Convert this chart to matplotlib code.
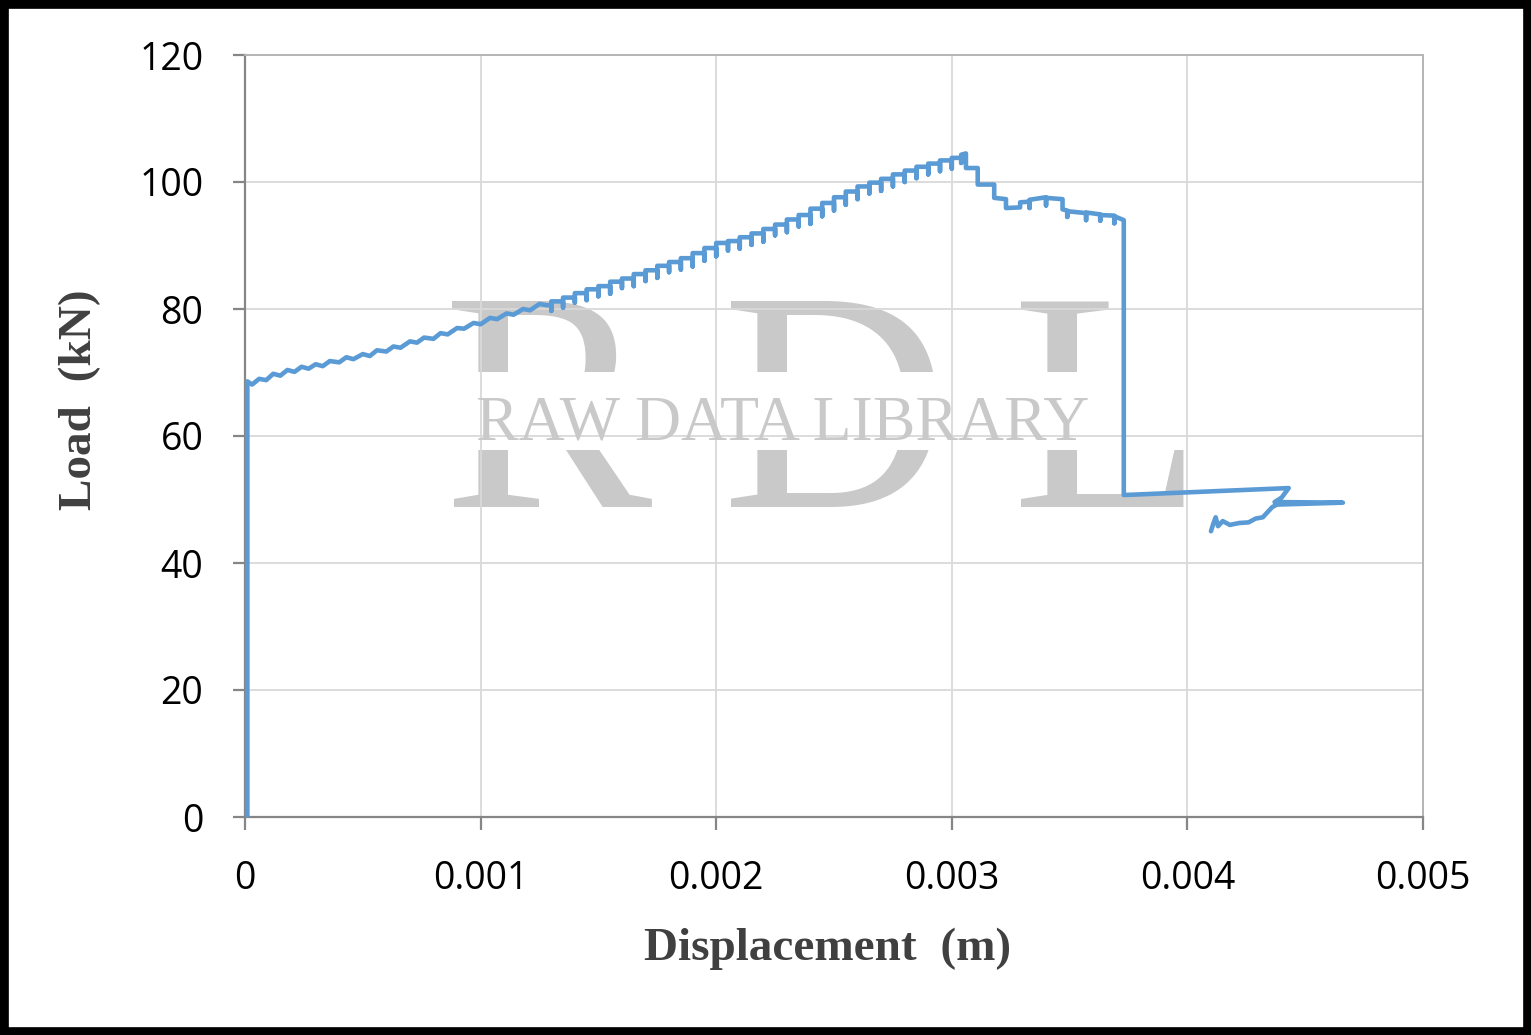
#!/usr/bin/env python3
"""
Load vs displacement curve (Excel-style scatter with lines) with RDL watermark
"""

import matplotlib
matplotlib.use('Agg')
import matplotlib.pyplot as plt
import matplotlib.patches as patches

LINE_BLUE = '#5B9BD5'
GRID_GRAY = '#D9D9D9'
AXIS_GRAY = '#868686'
MARK_GRAY = '#C9C9C9'

# initial elastic jump + wavy rise (displacement in m, load in kN)
rise_disp = [0.00001, 0.00001, 0.00003, 0.00006, 0.00009, 0.00012, 0.00015, 0.00018,
             0.00021, 0.00024, 0.00027, 0.00030, 0.00033, 0.00036, 0.00040, 0.00043,
             0.00046, 0.00050, 0.00053, 0.00056, 0.00060, 0.00063, 0.00066, 0.00070,
             0.00073, 0.00076, 0.00080, 0.00083, 0.00086, 0.00090, 0.00093, 0.00097,
             0.00100, 0.00104, 0.00107, 0.00111, 0.00114, 0.00118, 0.00121, 0.00125,
             0.00128]
rise_load = [0.0, 68.6, 68.1, 69.0, 68.8, 69.8, 69.5, 70.4,
             70.1, 70.9, 70.6, 71.3, 71.0, 71.8, 71.6, 72.4,
             72.1, 72.9, 72.6, 73.5, 73.3, 74.1, 73.9, 74.9,
             74.7, 75.5, 75.3, 76.2, 76.0, 77.0, 76.9, 77.8,
             77.6, 78.6, 78.4, 79.3, 79.1, 80.0, 79.8, 80.8,
             80.6]

# stair-step section up to the peak: step position, spike bottom, new level
step_disp = [0.00130, 0.00135, 0.00140, 0.00145, 0.00150, 0.00155, 0.00160, 0.00165,
             0.00170, 0.00175, 0.00180, 0.00185, 0.00190, 0.00195, 0.00200, 0.00205,
             0.00210, 0.00215, 0.00220, 0.00225, 0.00230, 0.00235, 0.00240, 0.00245,
             0.00250, 0.00255, 0.00260, 0.00265, 0.00270, 0.00275, 0.00280, 0.00285,
             0.00290, 0.00295, 0.00300, 0.00304]
step_low = [79.7, 80.2, 81.0, 81.4, 82.0, 82.4, 83.3, 83.6,
            84.4, 84.9, 85.8, 86.2, 86.7, 87.6, 88.3, 89.2,
            89.5, 90.1, 90.6, 91.6, 92.1, 93.0, 93.4, 94.6,
            95.5, 96.4, 97.3, 98.2, 98.6, 99.3, 100.0, 100.6,
            101.2, 101.7, 102.1, 103.0]
step_level = [81.2, 81.8, 82.5, 83.1, 83.6, 84.3, 84.8, 85.5,
              86.1, 86.8, 87.4, 88.0, 88.8, 89.6, 90.4, 90.7,
              91.3, 91.9, 92.6, 93.3, 94.1, 94.8, 95.8, 96.7,
              97.6, 98.5, 99.3, 99.9, 100.5, 101.2, 101.8, 102.4,
              102.9, 103.4, 103.8, 104.3]

# post-peak softening and sudden drop
post_disp = [0.00306, 0.00306, 0.00311, 0.00311, 0.00318, 0.00318, 0.00323, 0.00323,
             0.00329, 0.00329, 0.00333, 0.00333, 0.00333, 0.00340, 0.00340, 0.00340,
             0.00347, 0.00347, 0.00349, 0.00349, 0.00349, 0.00357, 0.00357, 0.00357,
             0.00363, 0.00363, 0.00363, 0.00369, 0.00369, 0.00369, 0.00373, 0.00373]
post_load = [104.5, 102.2, 102.2, 99.6, 99.6, 97.5, 97.3, 95.9,
             96.0, 96.8, 96.9, 95.9, 97.2, 97.6, 96.3, 97.5,
             97.3, 95.7, 95.5, 94.5, 95.4, 95.1, 94.0, 95.2,
             94.9, 93.9, 94.8, 94.7, 93.5, 94.6, 94.0, 50.7]

# residual tail
tail_disp = [0.00443, 0.00440, 0.00437, 0.00466, 0.00438, 0.00436, 0.00434, 0.00432,
             0.00429, 0.00426, 0.00422, 0.00418, 0.00415, 0.00413, 0.00412, 0.00411,
             0.00410]
tail_load = [51.8, 50.3, 49.6, 49.5, 49.2, 48.8, 48.0, 47.2,
             47.0, 46.4, 46.3, 46.0, 46.6, 45.8, 47.2, 46.2,
             45.0]

x_ticks = [0, 0.001, 0.002, 0.003, 0.004, 0.005]
x_tick_labels = ['0', '0.001', '0.002', '0.003', '0.004', '0.005']
y_ticks = [0, 20, 40, 60, 80, 100, 120]
y_tick_labels = ['0', '20', '40', '60', '80', '100', '120']


def build_curve():
    """Join the segments into one polyline in recording order"""
    xs = list(rise_disp)
    ys = list(rise_load)
    prev = ys[-1]
    for x, low, level in zip(step_disp, step_low, step_level):
        xs += [x, x, x]
        ys += [prev, low, level]
        prev = level
    xs += post_disp + tail_disp
    ys += post_load + tail_load
    return xs, ys


def create_chart(output_file='out.png'):
    fig = plt.figure(figsize=(15.31, 10.35), dpi=100, facecolor='white')
    ax = fig.add_axes([245 / 1531, 1 - 817 / 1035, 1178 / 1531, 762 / 1035])
    ax.set_facecolor('white')
    ax.set_axisbelow(True)

    ax.set_xlim(0, 0.005)
    ax.set_ylim(0, 120)
    ax.set_xticks(x_ticks)
    ax.set_xticklabels(x_tick_labels)
    ax.set_yticks(y_ticks)
    ax.set_yticklabels(y_tick_labels)
    ax.grid(True, color=GRID_GRAY, linewidth=1.3)

    for side in ['left', 'bottom']:
        ax.spines[side].set_color(AXIS_GRAY)
        ax.spines[side].set_linewidth(1.6)
    for side in ['top', 'right']:
        ax.spines[side].set_color('#B4B4B4')
        ax.spines[side].set_linewidth(1.4)

    ax.tick_params(axis='both', direction='out', length=9, width=1.6,
                   color=AXIS_GRAY, labelsize=27, labelcolor='black')
    ax.tick_params(axis='y', pad=21)
    ax.tick_params(axis='x', pad=22)
    for lab in ax.get_xticklabels() + ax.get_yticklabels():
        lab.set_family('Open Sans')

    # watermark: big serif letters, cut by a band where the small text sits
    for letter, px in [('R', 548), ('D', 835), ('L', 1108)]:
        ax.text((px - 245) / 1178, (817 - 507) / 762, letter, ha='center', va='baseline',
                fontsize=226, family='Liberation Serif', color=MARK_GRAY,
                transform=ax.transAxes, zorder=0.1)
    band = patches.Rectangle(((440 - 245) / 1178, (817 - 450) / 762),
                             (1200 - 440) / 1178, 78 / 762,
                             facecolor='white', edgecolor='none',
                             transform=ax.transAxes, zorder=0.2)
    ax.add_patch(band)
    ax.text((783 - 245) / 1178, (817 - 440) / 762, 'RAW DATA LIBRARY', ha='center',
            va='baseline', fontsize=46, family='Liberation Serif', color=MARK_GRAY,
            transform=ax.transAxes, zorder=0.6)

    xs, ys = build_curve()
    ax.plot(xs, ys, color=LINE_BLUE, linewidth=3.3, solid_joinstyle='round',
            solid_capstyle='round', zorder=3)

    # axis titles
    fig.text(828 / 1531, 1 - 949 / 1035, 'Displacement  (m)', ha='center', va='center',
             fontsize=34, fontweight='bold', family='Liberation Serif', color='#404040')
    fig.text(80 / 1531, 1 - 400 / 1035, 'Load  (kN)', ha='center', va='center',
             rotation=90, fontsize=34, fontweight='bold', family='Liberation Serif',
             color='#404040')

    # black frame round the whole picture
    frame = patches.Rectangle((0, 0), 1, 1, transform=fig.transFigure, fill=False,
                              edgecolor='black', linewidth=12, clip_on=False)
    fig.add_artist(frame)

    fig.savefig(output_file, dpi=100, facecolor='white')
    plt.close(fig)
    return output_file


if __name__ == '__main__':
    create_chart()
